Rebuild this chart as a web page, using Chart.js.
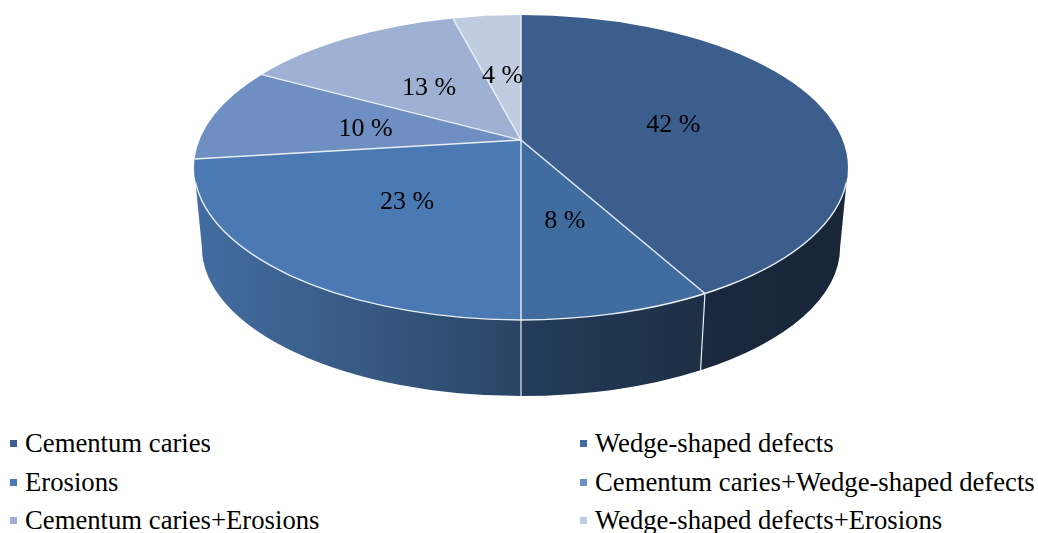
<!DOCTYPE html>
<html>
<head>
<meta charset="utf-8">
<script src="https://cdn.jsdelivr.net/npm/chart.js@4.4.1/dist/chart.umd.min.js"></script>
<style>
  body { margin: 0; background: #fff; width: 1038px; height: 533px; overflow: hidden; position: relative;
         font-family: "Liberation Serif", "Times New Roman", serif; }
  #wrap { position: absolute; left: 0; top: 0; width: 1038px; height: 420px; }
  .item { position: absolute; height: 30px; line-height: 30px; font-size: 26.7px; color: #000; white-space: nowrap; }
  .item .box { position: absolute; left: 0; top: 12px; width: 7px; height: 7px; }
  .item .txt { position: absolute; left: 15px; top: 0; }
</style>
</head>
<body>
<div id="wrap"><canvas id="pie"></canvas></div>
<div id="legend"></div>
<script>
const categories = [
  'Cementum caries',
  'Wedge-shaped defects',
  'Erosions',
  'Cementum caries+Wedge-shaped defects',
  'Cementum caries+Erosions',
  'Wedge-shaped defects+Erosions'
];
const shares = [42, 8, 23, 10, 13, 4];
const sliceColors = ['#3b5e8c', '#416ca0', '#4a79b3', '#6f8fc2', '#9eb1d3', '#c1cce1'];

// how the flat pie is tilted into a disc; everything is relative to the radius chart.js gives
const view = { stretchX: 1.952, stretchY: 0.910, depth: 0.476, persp: -0.18, bottomShrink: 0.976 };
const ch = 1 / Math.sqrt(1 - view.persp * view.persp);
const sh = view.persp * ch;

// perspective map of a point (r, angle) of the unit pie onto the unit ellipse
function proj(r, a) {
  const u = r * Math.cos(a), v = r * Math.sin(a);
  const den = ch + v * sh;
  return { u: u / den, v: (v * ch + sh) / den };
}

// angle on the drawn ellipse for a slice edge angle
function rimAngle(a) {
  const p = proj(1, a);
  let phi = Math.atan2(p.v, p.u);
  while (phi - a > Math.PI) phi -= 2 * Math.PI;
  while (a - phi > Math.PI) phi += 2 * Math.PI;
  return phi;
}

function shade(hex, f) {
  const n = parseInt(hex.slice(1), 16);
  const r = Math.round(((n >> 16) & 255) * f), g = Math.round(((n >> 8) & 255) * f), b = Math.round((n & 255) * f);
  return 'rgb(' + r + ',' + g + ',' + b + ')';
}

const wallShade = [[0, 0.9], [0.25, 0.74], [0.5, 0.56], [0.75, 0.44], [1, 0.4]];

class Pie3D extends Chart.PieController {
  static id = 'pie3d';
  draw() {
    const ctx = this.chart.ctx;
    const arcs = this._cachedMeta.data;
    if (!arcs.length) return;
    const cx = arcs[0].x, cy = arcs[0].y, R = arcs[0].outerRadius;
    const rx = R * view.stretchX, ry = R * view.stretchY, dz = R * view.depth;
    const brx = rx * view.bottomShrink, bry = ry * view.bottomShrink;
    const ax = cx, ay = cy + ry * (sh / ch);
    ctx.save();

    // side walls (only the front half shows)
    arcs.forEach(arc => {
      const s = Math.max(rimAngle(arc.startAngle), 0);
      const e = Math.min(rimAngle(arc.endAngle), Math.PI);
      if (e <= s) return;
      const g = ctx.createLinearGradient(cx - rx, 0, cx + rx, 0);
      wallShade.forEach(([p, f]) => g.addColorStop(p, shade(arc.options.backgroundColor, f)));
      ctx.beginPath();
      ctx.ellipse(cx, cy, rx, ry, 0, s, e);
      ctx.lineTo(cx + brx * Math.cos(e), cy + dz + bry * Math.sin(e));
      ctx.ellipse(cx, cy + dz, brx, bry, 0, e, s, true);
      ctx.closePath();
      ctx.fillStyle = g;
      ctx.fill();
    });
    ctx.strokeStyle = '#e9eef5';
    ctx.lineWidth = 1.2;
    arcs.forEach(arc => {
      const s = rimAngle(arc.startAngle);
      if (s <= 0.02 || s >= Math.PI - 0.02) return;
      ctx.beginPath();
      ctx.moveTo(cx + rx * Math.cos(s), cy + ry * Math.sin(s));
      ctx.lineTo(cx + brx * Math.cos(s), cy + dz + bry * Math.sin(s));
      ctx.stroke();
    });

    // top face
    arcs.forEach(arc => {
      const s = rimAngle(arc.startAngle), e = rimAngle(arc.endAngle);
      ctx.beginPath();
      ctx.moveTo(ax, ay);
      ctx.ellipse(cx, cy, rx, ry, 0, s, e);
      ctx.closePath();
      ctx.fillStyle = arc.options.backgroundColor;
      ctx.fill();
    });
    ctx.lineWidth = 1.4;
    arcs.forEach(arc => {
      const s = rimAngle(arc.startAngle);
      ctx.beginPath();
      ctx.moveTo(ax, ay);
      ctx.lineTo(cx + rx * Math.cos(s), cy + ry * Math.sin(s));
      ctx.stroke();
    });
    ctx.beginPath();
    ctx.ellipse(cx, cy, rx, ry, 0, 0.1, Math.PI - 0.1);
    ctx.stroke();
    ctx.restore();
  }
}
Chart.register(Pie3D);

const sliceLabels = {
  id: 'sliceLabels',
  afterDatasetsDraw(chart) {
    const ctx = chart.ctx;
    const meta = chart.getDatasetMeta(0);
    ctx.save();
    ctx.font = '26px "Liberation Serif", "Times New Roman", serif';
    ctx.fillStyle = '#000';
    ctx.textAlign = 'center';
    ctx.textBaseline = 'middle';
    meta.data.forEach((arc, i) => {
      const p = arc.tooltipPosition();
      const R = arc.outerRadius;
      const r = Math.hypot(p.x - arc.x, p.y - arc.y) / R;
      const q = proj(r, Math.atan2(p.y - arc.y, p.x - arc.x));
      // +3 so the digits sit where excel puts them
      ctx.fillText(shares[i] + ' %', arc.x + R * view.stretchX * q.u, arc.y + R * view.stretchY * q.v + 3);
    });
    ctx.restore();
  }
};

const chart = new Chart(document.getElementById('pie'), {
  type: 'pie3d',
  data: {
    labels: categories,
    datasets: [{ data: shares, backgroundColor: sliceColors, borderWidth: 0, hoverOffset: 0, clip: false }]
  },
  options: {
    responsive: true,
    maintainAspectRatio: false,
    animation: false,
    events: [],
    layout: { padding: { left: 4, right: 0, top: 0, bottom: 85 } },
    plugins: { legend: { display: false }, tooltip: { enabled: false } }
  },
  plugins: [sliceLabels]
});

// legend in two columns, filled row by row
const legendCols = [10, 580];
const legendRows = [428, 467, 505];
const legend = document.getElementById('legend');
chart.data.labels.forEach((lab, i) => {
  const d = document.createElement('div');
  d.className = 'item';
  d.style.left = legendCols[i % 2] + 'px';
  d.style.top = legendRows[Math.floor(i / 2)] + 'px';
  d.innerHTML = '<span class="box" style="background:' + chart.data.datasets[0].backgroundColor[i] + '"></span><span class="txt"></span>';
  d.querySelector('.txt').textContent = lab;
  legend.appendChild(d);
});
</script>
</body>
</html>
